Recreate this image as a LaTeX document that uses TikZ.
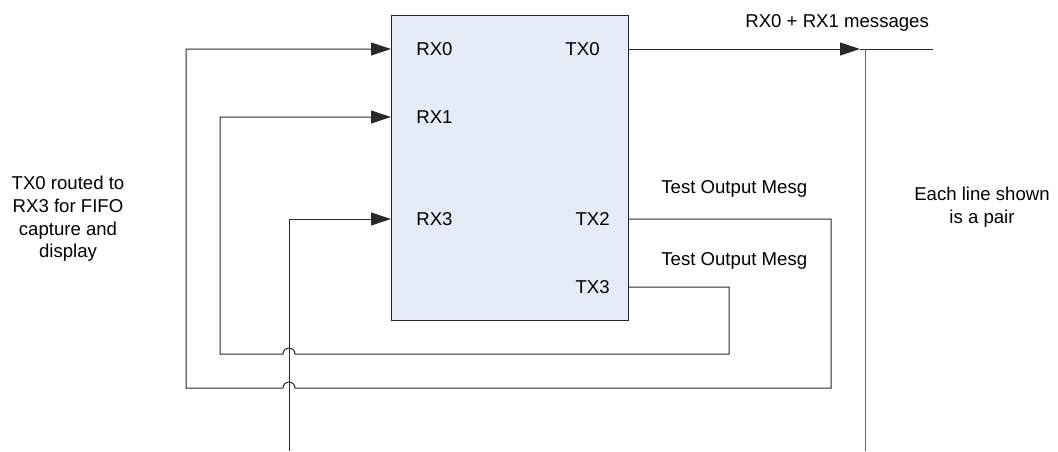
\documentclass[tikz,border=0pt]{standalone}
\usepackage{fontspec}
\setmainfont{Liberation Sans}
\usetikzlibrary{arrows.meta}
\definecolor{boxfill}{RGB}{230,236,247}
\definecolor{wire}{RGB}{40,40,40}
\tikzset{
  unitbox/.style={draw=black!85, line width=0.7pt, fill=boxfill, inner sep=0pt,
    minimum width=118.5pt, minimum height=152.5pt, anchor=north west},
  wireline/.style={draw=wire, line width=0.5pt},
  arrowwire/.style={wireline, -{Triangle[length=10pt,width=6.5pt]}},
  lbl/.style={font=\fontsize{9.3pt}{11.3pt}\selectfont, inner sep=0pt},
}
\begin{document}
\begin{tikzpicture}[x=0.5pt,y=-0.5pt]
\useasboundingbox (0,0) rectangle (1058,451);
% main box
\node[unitbox] (box) at (391,15) {};
% ports
\coordinate (rx0) at (391,49);
\coordinate (rx1) at (391,117);
\coordinate (rx3) at (391,219);
\coordinate (tx0) at (628,49);
\coordinate (tx2) at (628,219);
\coordinate (tx3) at (628,287);
% routing corners
\coordinate (tx2r) at (831,219);
\coordinate (tx2b) at (831,388);
\coordinate (hopA) at (295,388);
\coordinate (l0b) at (186,388);
\coordinate (l0t) at (186,49);
\coordinate (tx3r) at (729,287);
\coordinate (tx3b) at (729,354);
\coordinate (hopB) at (295,354);
\coordinate (l1b) at (220,354);
\coordinate (l1t) at (220,117);
\coordinate (rx3bot) at (289.5,451);
\coordinate (rx3t) at (289.5,219);
\coordinate (tip) at (860,49);
\coordinate (tx0end) at (933,49);
\coordinate (pairtop) at (865,49);
\coordinate (pairbot) at (865,451);
% port labels
\node[lbl, anchor=base west] (lrx0) at (416,55) {RX0};
\node[lbl, anchor=base west] (lrx1) at (416,123) {RX1};
\node[lbl, anchor=base west] (lrx3) at (416,225) {RX3};
\node[lbl, anchor=base east] (ltx0) at (600,55) {TX0};
\node[lbl, anchor=base east] (ltx2) at (610,225) {TX2};
\node[lbl, anchor=base east] (ltx3) at (610,293) {TX3};
% wires
\draw[arrowwire] (tx2) -- (tx2r) -- (tx2b) -- (hopA)
  arc[start angle=0, end angle=-180, radius=6] -- (l0b) -- (l0t) -- (rx0);
\draw[arrowwire] (tx3) -- (tx3r) -- (tx3b) -- (hopB)
  arc[start angle=0, end angle=-180, radius=6] -- (l1b) -- (l1t) -- (rx1);
\draw[arrowwire] (rx3bot) -- (rx3t) -- (rx3);
\draw[arrowwire] (tx0) -- (tip);
\draw[wireline] (tip) -- (tx0end);
\draw[wireline, draw=black!60] (pairtop) -- (pairbot);
% annotations
\node[lbl, anchor=base west] (msgs) at (745,27) {RX0 + RX1 messages};
\node[lbl, anchor=base west] (tom1) at (661,193) {Test Output Mesg};
\node[lbl, anchor=base west] (tom2) at (661,265) {Test Output Mesg};
\node[lbl, align=center] (note) at (68,219) {TX0 routed to\\RX3 for FIFO\\capture and\\display};
\node[lbl, align=center] (pair) at (982,207) {Each line shown\\is a pair};
\end{tikzpicture}
\end{document}
